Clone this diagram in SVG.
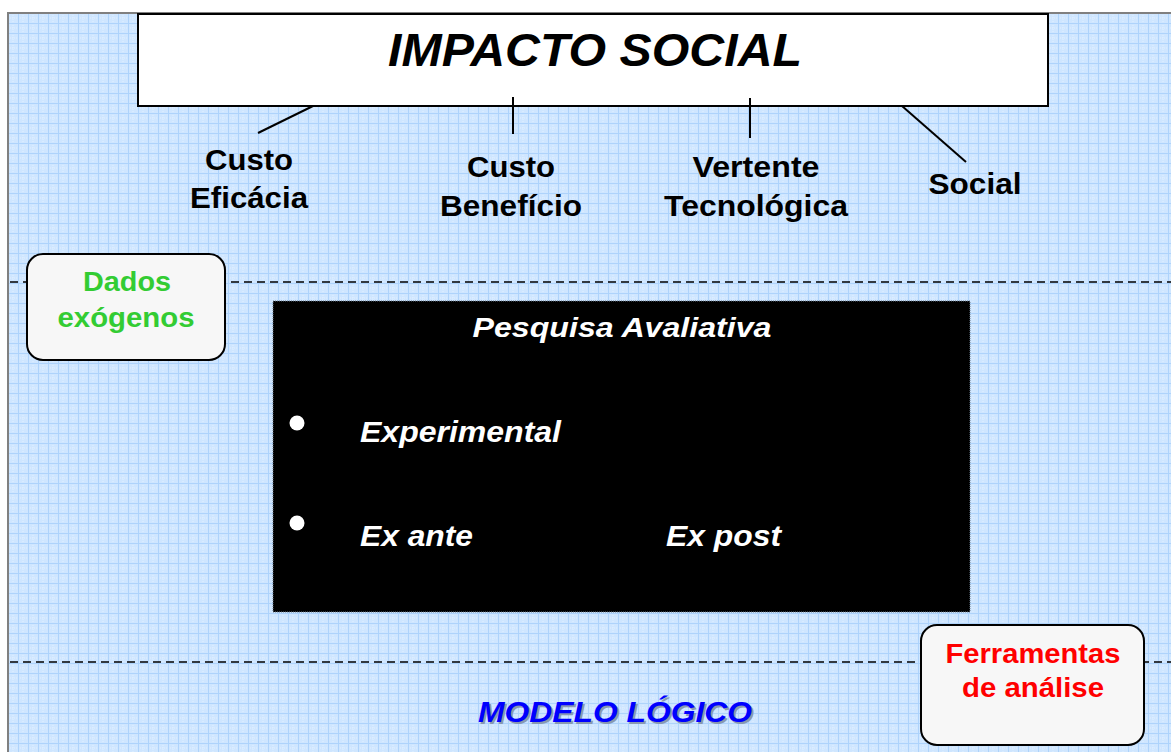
<svg xmlns="http://www.w3.org/2000/svg" width="1171" height="752" viewBox="0 0 1171 752">
<defs>
<pattern id="grid" x="8" y="13" width="10" height="10" patternUnits="userSpaceOnUse">
<rect width="10" height="10" fill="#cfe6ff"/>
<path d="M0 5H10M5 0V10" stroke="#e2f0ff" stroke-width="1" stroke-dasharray="1 1"/>
<path d="M0 0.5H10M0.5 0V10" stroke="#aed3fb" stroke-width="1"/>
</pattern>
<style>
.lbl{font-family:"Liberation Sans",Arial,sans-serif;font-weight:bold;font-size:29px;fill:#000;text-anchor:middle}
.wt{font-family:"Liberation Sans",Arial,sans-serif;font-weight:bold;font-style:italic;font-size:29px;fill:#fff}
.box{fill:#f7f7f7;stroke:#000;stroke-width:2}
.conn{stroke:#000;stroke-width:2;fill:none}
.dash{stroke:#000;stroke-width:1.3;stroke-dasharray:8 5;fill:none}
</style>
</defs>
<rect width="1171" height="752" fill="#fff"/>
<rect x="8" y="13" width="1170" height="745" fill="url(#grid)" stroke="#808080" stroke-width="2"/>
<g id="dashed-lines">
<line class="dash" x1="10" y1="282" x2="1171" y2="282"/>
<line class="dash" x1="10" y1="662" x2="1171" y2="662"/>
</g>
<g id="title">
<rect x="138" y="14" width="910" height="92" fill="#fff" stroke="#000" stroke-width="2"/>
<text x="595" y="66" font-family="Liberation Sans,Arial,sans-serif" font-weight="bold" font-style="italic" font-size="46" text-anchor="middle" textLength="414" lengthAdjust="spacingAndGlyphs">IMPACTO SOCIAL</text>
</g>
<g id="connectors">
<line class="conn" x1="258" y1="133" x2="313" y2="106"/>
<line class="conn" x1="513" y1="97" x2="513" y2="134"/>
<line class="conn" x1="750" y1="98" x2="750" y2="138"/>
<line class="conn" x1="902" y1="106" x2="966" y2="162"/>
</g>
<g id="custo-eficacia">
<text class="lbl" x="249" y="170" textLength="88" lengthAdjust="spacingAndGlyphs">Custo</text>
<text class="lbl" x="249" y="208" textLength="118" lengthAdjust="spacingAndGlyphs">Eficácia</text>
</g>
<g id="custo-beneficio">
<text class="lbl" x="511" y="177" textLength="88" lengthAdjust="spacingAndGlyphs">Custo</text>
<text class="lbl" x="511" y="216" textLength="142" lengthAdjust="spacingAndGlyphs">Benefício</text>
</g>
<g id="vertente-tecnologica">
<text class="lbl" x="756" y="177" textLength="127" lengthAdjust="spacingAndGlyphs">Vertente</text>
<text class="lbl" x="756" y="216" textLength="184" lengthAdjust="spacingAndGlyphs">Tecnológica</text>
</g>
<g id="social">
<text class="lbl" x="975" y="194" textLength="93" lengthAdjust="spacingAndGlyphs">Social</text>
</g>
<g id="dados-exogenos">
<rect class="box" x="27" y="254" width="198" height="106" rx="16"/>
<text class="lbl" x="127" y="291" style="fill:#33cc33;font-size:27px" textLength="88" lengthAdjust="spacingAndGlyphs">Dados</text>
<text class="lbl" x="126" y="327" style="fill:#33cc33;font-size:27px" textLength="137" lengthAdjust="spacingAndGlyphs">exógenos</text>
</g>
<g id="pesquisa-avaliativa">
<rect x="273" y="301" width="697" height="311" fill="#000" stroke="#6a7a8a" stroke-width="1" stroke-dasharray="1 1"/>
<text class="wt" x="622" y="337" text-anchor="middle" style="font-size:28px" textLength="299" lengthAdjust="spacingAndGlyphs">Pesquisa Avaliativa</text>
<circle cx="297" cy="423" r="7.5" fill="#fff"/>
<circle cx="297" cy="523" r="7.5" fill="#fff"/>
<text class="wt" x="360" y="442" textLength="201" lengthAdjust="spacingAndGlyphs">Experimental</text>
<text class="wt" x="360" y="546" textLength="113" lengthAdjust="spacingAndGlyphs">Ex ante</text>
<text class="wt" x="666" y="546" textLength="115" lengthAdjust="spacingAndGlyphs">Ex post</text>
</g>
<g id="ferramentas">
<rect class="box" x="921" y="625" width="223" height="120" rx="16"/>
<text class="lbl" x="1033" y="663" style="fill:#ff0000;font-size:27px" textLength="175" lengthAdjust="spacingAndGlyphs">Ferramentas</text>
<text class="lbl" x="1033" y="697" style="fill:#ff0000;font-size:27px" textLength="142" lengthAdjust="spacingAndGlyphs">de análise</text>
</g>
<g id="modelo-logico">
<text x="617" y="724" font-family="Liberation Sans,Arial,sans-serif" font-weight="bold" font-style="italic" font-size="29" text-anchor="middle" fill="#8a9ab0" textLength="274" lengthAdjust="spacingAndGlyphs">MODELO LÓGICO</text>
<text x="615" y="722" font-family="Liberation Sans,Arial,sans-serif" font-weight="bold" font-style="italic" font-size="29" text-anchor="middle" fill="#0000ff" textLength="274" lengthAdjust="spacingAndGlyphs">MODELO LÓGICO</text>
</g>
</svg>
